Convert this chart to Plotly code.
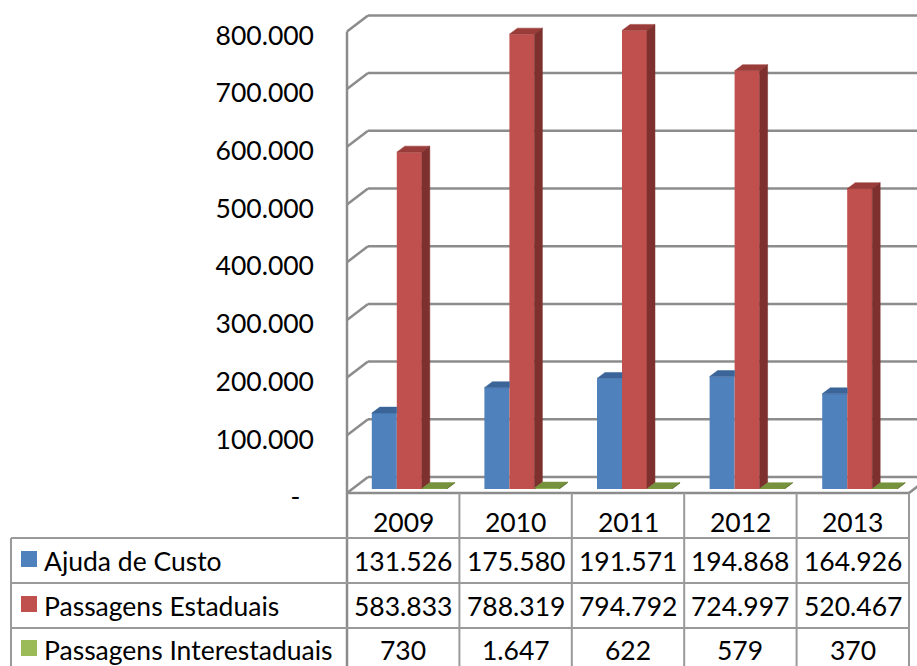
import plotly.graph_objects as go

# ---------------- data ----------------
years = ["2009", "2010", "2011", "2012", "2013"]
ajuda_de_custo = [131526, 175580, 191571, 194868, 164926]
passagens_estaduais = [583833, 788319, 794792, 724997, 520467]
passagens_interestaduais = [730, 1647, 622, 579, 370]
series_names = ["Ajuda de Custo", "Passagens Estaduais", "Passagens Interestaduais"]
y_tick_values = [0, 100000, 200000, 300000, 400000, 500000, 600000, 700000, 800000]

series_values = [ajuda_de_custo, passagens_estaduais, passagens_interestaduais]
front_colors = ["#4F81BD", "#C0504D", "#9BBB59"]
top_colors = ["#3B6499", "#9A3C39", "#76923C"]
side_colors = ["#2E4D77", "#7D302E", "#5E7530"]

# ---------------- layout geometry ----------------
W, H = 917, 666
ML, MR, MT, MB = 353, 1, 5, 177
PW = W - ML - MR          # plot width in px
PH = H - MT - MB          # plot height in px
Y_BOTTOM = H - MB         # pixel row of y=0
PX_PER_100K = 57.7
Y_MAX = PH / PX_PER_100K * 100000
N = len(years)
BARGAP = 0.334
w = (1 - BARGAP) / 3      # width of one bar in x units
DX = 8 / (PW / N)         # depth offset in x units
DY = 6 * Y_MAX / PH       # depth offset in y units

FONT = "Lato"
FS = 26.5
GRID = "#8C8C8C"
TABLE_LINE = "#9A9A9A"


def fmt(v):
    return f"{v:,}".replace(",", ".")


def py(v):
    """pixel row for a data value (front of bars)"""
    return Y_BOTTOM - v / Y_MAX * PH


def pxx(p):
    return (p - ML) / PW


def pxy(p):
    return (Y_BOTTOM - p) / PH


fig = go.Figure()

# front faces
for k in range(3):
    fig.add_trace(go.Bar(
        x=list(range(N)), y=series_values[k], name=series_names[k],
        marker=dict(color=front_colors[k], line=dict(width=0)),
        hoverinfo="skip", showlegend=False,
    ))

# 3D top / side faces
for k in range(3):
    tx, ty, sx, sy = [], [], [], []
    for i, v in enumerate(series_values[k]):
        x0 = i - (1 - BARGAP) / 2 + k * w
        x1 = x0 + w
        if k == 0:
            tx += [x0, x1, x1, x0 + DX, x0, None]
            ty += [v, v, v + DY, v + DY, v, None]
        else:
            tx += [x0, x1, x1 + DX, x0 + DX, x0, None]
            ty += [v, v, v + DY, v + DY, v, None]
            sx += [x1, x1, x1 + DX, x1 + DX, x1, None]
            sy += [0, v, v + DY, DY, 0, None]
    fig.add_trace(go.Scatter(x=tx, y=ty, mode="lines", fill="toself",
                             fillcolor=top_colors[k], line=dict(width=0.5, color=top_colors[k]),
                             hoverinfo="skip", showlegend=False))
    if sx:
        fig.add_trace(go.Scatter(x=sx, y=sy, mode="lines", fill="toself",
                                 fillcolor=side_colors[k], line=dict(width=0.5, color=side_colors[k]),
                                 hoverinfo="skip", showlegend=False))

shapes = []
annotations = []


def line(x0, y0, x1, y1, color=GRID, width=2.5):
    shapes.append(dict(type="line", xref="paper", yref="paper",
                       x0=pxx(x0), y0=pxy(y0), x1=pxx(x1), y1=pxy(y1),
                       line=dict(color=color, width=width), layer="below"))


# 3D frame: back-wall gridlines and side-wall ticks
FRONT_X, BACK_X = 347, 368
BACK_SHIFT = 12      # back wall sits 12px above bar baseline scale
for v in y_tick_values:
    yb = py(v) - BACK_SHIFT
    line(BACK_X, yb, W + 20, yb)
    line(FRONT_X, yb + 16, BACK_X, yb)

top_front = py(y_tick_values[-1]) - BACK_SHIFT + 16
floor_front = py(0) - BACK_SHIFT + 16
line(FRONT_X, top_front, FRONT_X, H + 5)           # front vertical edge
# floor front edge and right slant
col_w = 112.4
table_right = FRONT_X + col_w * N
line(FRONT_X, floor_front, table_right, floor_front)
line(table_right, floor_front, table_right + 21, floor_front - 16)

# ---------------- data table ----------------
row_tops = [538, 583, 628]
row_text_y = [561, 606, 650]
header_text_y = 522
table_left = 11

for j in range(1, N + 1):
    line(FRONT_X + col_w * j, floor_front, FRONT_X + col_w * j, H + 5, TABLE_LINE, 2)
for yt in row_tops:
    line(table_left, yt, table_right, yt, TABLE_LINE, 2)
line(table_left, row_tops[0], table_left, H + 5, TABLE_LINE, 2)

for j, yr in enumerate(years):
    annotations.append(dict(xref="paper", yref="paper", x=pxx(FRONT_X + col_w * (j + 0.5)),
                            y=pxy(header_text_y), text=yr, showarrow=False,
                            xanchor="center", yanchor="middle",
                            font=dict(family=FONT, size=FS, color="black")))

for k in range(3):
    yc = row_text_y[k]
    shapes.append(dict(type="rect", xref="paper", yref="paper",
                       x0=pxx(21), x1=pxx(37), y0=pxy(yc - 10), y1=pxy(yc + 6),
                       fillcolor=front_colors[k], line=dict(width=0)))
    annotations.append(dict(xref="paper", yref="paper", x=pxx(42), y=pxy(yc),
                            text=series_names[k], showarrow=False,
                            xanchor="left", yanchor="middle",
                            font=dict(family=FONT, size=FS, color="black")))
    for j, v in enumerate(series_values[k]):
        annotations.append(dict(xref="paper", yref="paper",
                                x=pxx(FRONT_X + col_w * (j + 0.5)), y=pxy(yc),
                                text=fmt(v), showarrow=False,
                                xanchor="center", yanchor="middle",
                                font=dict(family=FONT, size=FS, color="black")))

tick_text = [fmt(v) if v else "-\u00a0\u00a0" for v in y_tick_values]

fig.update_layout(
    width=W, height=H,
    margin=dict(l=ML, r=MR, t=MT, b=MB, pad=0),
    plot_bgcolor="white", paper_bgcolor="white",
    barmode="group", bargap=BARGAP, bargroupgap=0,
    xaxis=dict(range=[-0.5, N - 0.5], showticklabels=False, showgrid=False,
               zeroline=False, showline=False, ticks="", fixedrange=True),
    yaxis=dict(range=[0, Y_MAX], tickvals=y_tick_values, ticktext=tick_text,
               showgrid=False, zeroline=False, showline=False, ticks="",
               ticklabelstandoff=38, ticklabelshift=8,
               tickfont=dict(family=FONT, size=FS, color="black"), fixedrange=True),
    shapes=shapes, annotations=annotations,
    showlegend=False,
)

fig.write_html("out.html", config={"displayModeBar": False},
               post_script="document.body.style.margin='0';document.body.style.overflow='hidden';")
